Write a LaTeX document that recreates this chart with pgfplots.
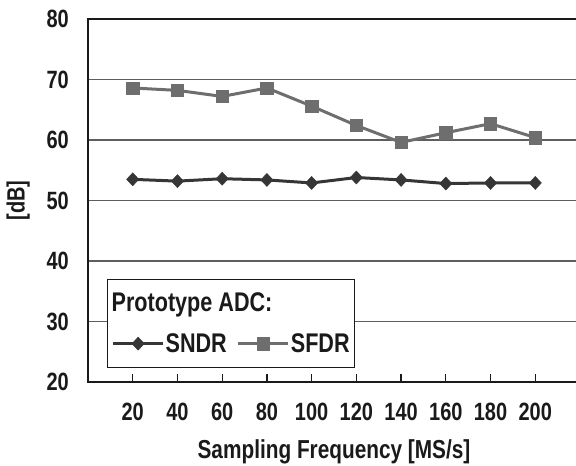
\documentclass[border=0pt]{standalone}
\usepackage{fontspec}
\setmainfont{Liberation Sans}[FakeStretch=0.8]
\usepackage{pgfplots}
\pgfplotsset{compat=1.18}
\definecolor{sndr}{HTML}{363636}
\definecolor{sfdr}{HTML}{6E6E6E}
\definecolor{gridc}{HTML}{5E5E5E}
\definecolor{txt}{HTML}{1A1A1A}
\begin{document}
\begin{tikzpicture}
\useasboundingbox (0pt,0pt) rectangle (576pt,466pt);
\begin{axis}[
  at={(88pt,84pt)}, anchor=south west,
  scale only axis, width=492pt, height=363pt,
  xmin=0, xmax=220, ymin=20, ymax=80,
  xtick={20,40,...,200}, ytick={20,30,...,80},
  /pgf/number format/assume math mode=true,
  ymajorgrids, grid style={draw=gridc, line width=1.4pt},
  axis line style={draw=txt, line width=1.8pt},
  xtick pos=bottom, xtick align=inside, major tick length=8pt,
  xtick style={draw=txt, line width=1.2pt},
  ytick style={draw=none},
  ticklabel style={font=\bfseries\fontsize{25}{25}\selectfont, text=txt},
  yticklabel style={anchor=east, inner sep=0pt, xshift=-19pt},
  xticklabel style={anchor=north, inner sep=0pt, yshift=-21pt, font=\bfseries\fontsize{25}{25}\selectfont},
  xlabel={Sampling Frequency [MS/s]},
  xlabel style={at={(axis description cs:0.5,0)}, anchor=north, inner sep=0pt, yshift=-57pt, font=\bfseries\fontsize{26}{26}\selectfont, text=txt},
  ylabel={[dB]},
  ylabel style={at={(axis description cs:-0.142,0.5)}, anchor=center, inner sep=0pt, font=\bfseries\fontsize{25}{25}\selectfont, text=txt},
  legend columns=2,
  legend cell align=left,
  legend image code/.code={\draw[mark repeat=2,mark phase=2,#1] plot coordinates {(0pt,0pt) (25pt,0pt) (50pt,0pt)};},
  legend style={at={(axis description cs:0.0386,0.0386)}, anchor=south west,
    draw=txt, line width=1.3pt, inner xsep=4pt, inner ysep=12.5pt,
    font=\bfseries\fontsize{27}{27}\selectfont, text=txt,
    row sep=18pt,
    /tikz/every even column/.append style={column sep=9pt},
    nodes={inner sep=1pt}},
]
\addlegendimage{empty legend}
\addlegendentry{\makebox[0pt][l]{\hspace*{-54pt}Prototype ADC:}}
\addlegendimage{empty legend}
\addlegendentry{}
\addplot[sndr, line width=3pt, mark=diamond*, mark size=6.5pt, mark options={xscale=1.25, fill=sndr, draw=sndr, line width=0.5pt}]
  coordinates {(20,53.5) (40,53.2) (60,53.6) (80,53.4) (100,52.9) (120,53.8) (140,53.4) (160,52.8) (180,52.9) (200,52.9)};
\addlegendentry{SNDR}
\addplot[sfdr, line width=3pt, mark=square*, mark size=6.2pt, mark options={fill=sfdr, draw=sfdr, line width=0.5pt}]
  coordinates {(20,68.6) (40,68.2) (60,67.2) (80,68.6) (100,65.6) (120,62.4) (140,59.6) (160,61.2) (180,62.7) (200,60.4)};
\addlegendentry{SFDR}
\end{axis}
\end{tikzpicture}
\end{document}
